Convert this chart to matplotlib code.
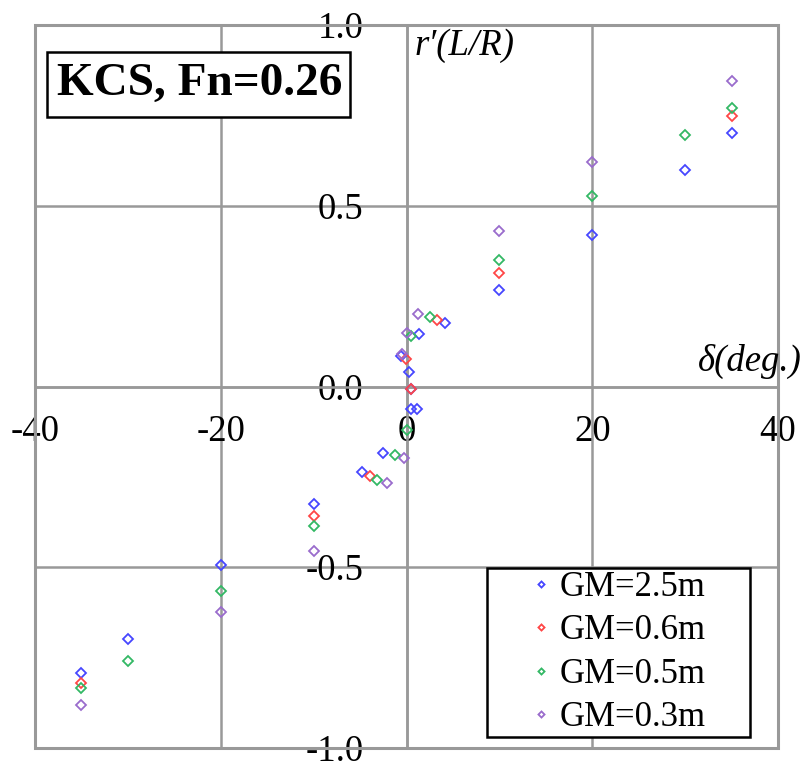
import matplotlib
matplotlib.use("Agg")
import matplotlib.pyplot as plt
from matplotlib.patches import Rectangle

# Rudder angle (deg) and non-dimensional yaw rate r'(L/R) for each GM condition
delta_gm25 = [-35, -30, -20, -10, -4.8, -2.5, -0.6, 0.25, 0.5, 0.45, 1.1, 1.3, 4.1, 10, 20, 30, 35]
r_gm25 = [-0.792, -0.698, -0.495, -0.326, -0.237, -0.184, 0.085, 0.041, -0.006, -0.062, -0.062, 0.144, 0.176, 0.266, 0.419, 0.600, 0.702]

delta_gm06 = [-35, -10, -3.9, -0.1, 0.5, 3.3, 10, 35]
r_gm06 = [-0.820, -0.359, -0.248, 0.077, -0.006, 0.183, 0.313, 0.748]

delta_gm05 = [-35, -30, -20, -10, -3.2, -1.2, 0.1, 0.5, 2.5, 10, 20, 30, 35]
r_gm05 = [-0.834, -0.760, -0.567, -0.386, -0.260, -0.190, -0.120, 0.141, 0.193, 0.349, 0.526, 0.695, 0.771]

delta_gm03 = [-35, -20, -10, -2.15, -0.3, -0.5, 0.07, 1.2, 10, 20, 35]
r_gm03 = [-0.881, -0.623, -0.454, -0.266, -0.197, 0.090, 0.149, 0.201, 0.430, 0.620, 0.844]

series_labels = ["GM=2.5m", "GM=0.6m", "GM=0.5m", "GM=0.3m"]
series_colors = ["#4646ff", "#ff4646", "#33b865", "#9a6ccc"]

x_ticks = [-40, -20, 0, 20, 40]
x_tick_labels = ["-40", "-20", "0", "20", "40"]
y_ticks = [-1.0, -0.5, 0.0, 0.5, 1.0]
y_tick_labels = ["-1.0", "-0.5", "0.0", "0.5", "1.0"]

plt.rcParams["font.family"] = ["Liberation Serif", "DejaVu Serif"]

fig = plt.figure(figsize=(8.07, 7.65), dpi=100)
ax = fig.add_axes([35 / 807, 1 - 748 / 765, (778 - 35) / 807, (748 - 25) / 765])

grid_grey = "#999999"
ax.set_xlim(-40, 40)
ax.set_ylim(-1.0, 1.0)
ax.set_xticks(x_ticks)
ax.set_xticklabels(x_tick_labels)
ax.set_yticks(y_ticks)
ax.set_yticklabels(y_tick_labels)
ax.grid(True, color=grid_grey, linewidth=1.8, zorder=0)
ax.set_axisbelow(True)

for side in ("left", "bottom"):
    ax.spines[side].set_position(("data", 0))
for side in ax.spines:
    ax.spines[side].set_color(grid_grey)
    ax.spines[side].set_linewidth(1.8)
ax.tick_params(axis="both", length=0, labelsize=26.5)
ax.tick_params(axis="x", pad=20)
ax.tick_params(axis="y", pad=31)

# outer frame of the plotting area
ax.add_patch(Rectangle((0, 0), 1, 1, transform=ax.transAxes, fill=False,
                       edgecolor=grid_grey, linewidth=2.2, clip_on=False, zorder=1))

all_series = [(delta_gm25, r_gm25), (delta_gm06, r_gm06), (delta_gm05, r_gm05), (delta_gm03, r_gm03)]
for (dx, ry), lab, col in zip(all_series, series_labels, series_colors):
    ax.plot(dx, ry, linestyle="none", marker="D", markersize=5.2,
            markerfacecolor="none", markeredgecolor=col, markeredgewidth=1.3,
            label=lab, zorder=3, clip_on=False)

# legend box stretched to a fixed width, markers well inside the left edge
leg = ax.legend(loc="lower left", mode="expand",
                bbox_to_anchor=(487 / 807, 1 - 737 / 765, (750 - 487) / 807, 0.01),
                bbox_transform=fig.transFigure, fontsize=25, markerscale=0.6,
                frameon=True, fancybox=False, edgecolor="black", handlelength=2.97,
                handletextpad=-0.97, labelspacing=0.3, borderpad=0.08,
                borderaxespad=0, facecolor="white", framealpha=1)
leg.get_frame().set_linewidth(1.8)
leg.set_zorder(5)

# title box: white panel with a black border, text on top
title_box = Rectangle(((47 - 35) / 743, (748 - 117) / 723), (350 - 47) / 743, 65 / 723,
                      transform=ax.transAxes, facecolor="white", edgecolor="black",
                      linewidth=1.8, zorder=5)
ax.add_patch(title_box)
ax.text(-37.64, 0.836, "KCS, Fn=0.26", fontsize=34, fontweight="bold",
        ha="left", va="center", zorder=6)

ax.text(0.9, 0.99, "r\u2032(L/R)", fontsize=26.5, fontstyle="italic",
        ha="left", va="top", zorder=6)
ax.text(42.6, 0.07, "\u03b4(deg.)", fontsize=26.5, fontstyle="italic",
        ha="right", va="center", zorder=6, clip_on=False)

fig.savefig("out.png", dpi=100, facecolor="white")
